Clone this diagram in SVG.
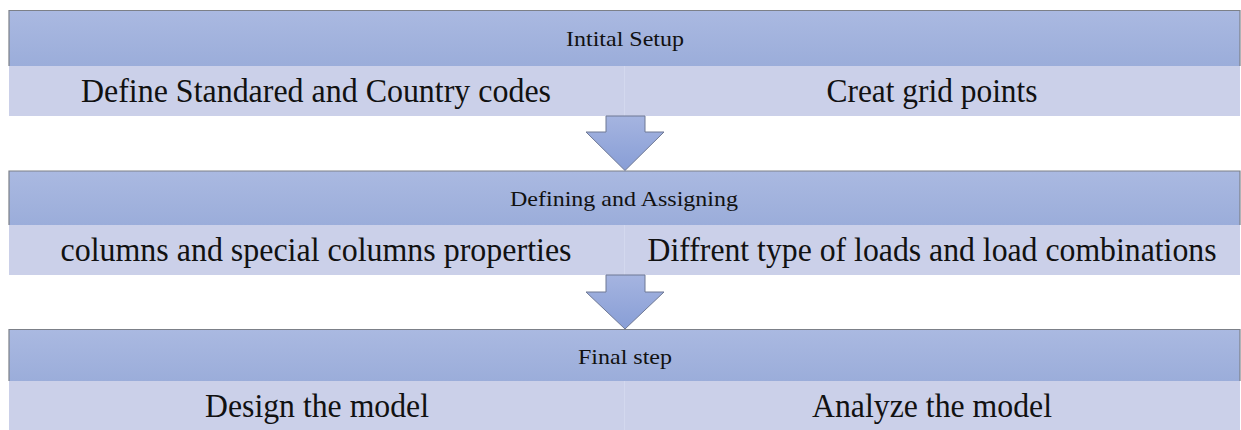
<svg xmlns="http://www.w3.org/2000/svg" width="1241" height="430" viewBox="0 0 1241 430">
  <defs>
    <linearGradient id="hdr" x1="0" y1="0" x2="0" y2="1">
      <stop offset="0" stop-color="#aab9e1"/>
      <stop offset="1" stop-color="#9badda"/>
    </linearGradient>
    <linearGradient id="arr" x1="0" y1="0" x2="0" y2="1">
      <stop offset="0" stop-color="#a5b4e0"/>
      <stop offset="1" stop-color="#889ed6"/>
    </linearGradient>
  </defs>
  <style>
    .hdr { fill: url(#hdr); }
    .edge { stroke: #7c8088; stroke-width: 1.2; fill: none; }
    .sub { fill: #cbd0e9; }
    .div { stroke: #d3d8ee; stroke-width: 1; }
    .arrow { fill: url(#arr); stroke: #6e7894; stroke-width: 1; }
    .ht { font-family: "Liberation Serif", "Times New Roman", serif; font-size: 22px; fill: #111; text-anchor: middle; }
    .st { font-family: "Liberation Serif", "Times New Roman", serif; font-size: 33px; fill: #111; text-anchor: middle; }
  </style>
  <rect width="1241" height="430" fill="#ffffff"/>

  <!-- Band 1 -->
  <g id="stage1-header">
    <rect class="hdr" x="9" y="10.5" width="1231" height="55.5"/>
    <path class="edge" d="M9 66 V10.5 H1240 V66"/>
    <text class="ht" x="625" y="46" textLength="118" lengthAdjust="spacingAndGlyphs">Intital Setup</text>
  </g>
  <g id="stage1-left">
    <rect class="sub" x="9" y="66" width="615.5" height="50"/>
    <text class="st" x="316" y="101.5" textLength="470" lengthAdjust="spacingAndGlyphs">Define Standared and Country codes</text>
  </g>
  <g id="stage1-right">
    <rect class="sub" x="624.5" y="66" width="615.5" height="50"/>
    <line class="div" x1="624.5" y1="66" x2="624.5" y2="116"/>
    <text class="st" x="932" y="101.5" textLength="211" lengthAdjust="spacingAndGlyphs">Creat grid points</text>
  </g>

  <!-- Band 2 -->
  <g id="stage2-header">
    <rect class="hdr" x="9" y="171" width="1231" height="54"/>
    <path class="edge" d="M9 225 V171 H1240 V225"/>
    <text class="ht" x="624" y="206" textLength="228" lengthAdjust="spacingAndGlyphs">Defining and Assigning</text>
  </g>
  <g id="stage2-left">
    <rect class="sub" x="9" y="225" width="615.5" height="50"/>
    <text class="st" x="316" y="260.5" textLength="511" lengthAdjust="spacingAndGlyphs">columns and special columns properties</text>
  </g>
  <g id="stage2-right">
    <rect class="sub" x="624.5" y="225" width="615.5" height="50"/>
    <line class="div" x1="624.5" y1="225" x2="624.5" y2="275"/>
    <text class="st" x="932" y="260.5" textLength="569" lengthAdjust="spacingAndGlyphs">Diffrent type of loads and load combinations</text>
  </g>

  <!-- Band 3 -->
  <g id="stage3-header">
    <rect class="hdr" x="9" y="329.5" width="1231" height="51.5"/>
    <path class="edge" d="M9 381 V329.5 H1240 V381"/>
    <text class="ht" x="625" y="364" textLength="94" lengthAdjust="spacingAndGlyphs">Final step</text>
  </g>
  <g id="stage3-left">
    <rect class="sub" x="9" y="381" width="615.5" height="50"/>
    <text class="st" x="317" y="417" textLength="224" lengthAdjust="spacingAndGlyphs">Design the model</text>
  </g>
  <g id="stage3-right">
    <rect class="sub" x="624.5" y="381" width="615.5" height="50"/>
    <line class="div" x1="624.5" y1="381" x2="624.5" y2="431"/>
    <text class="st" x="932" y="417" textLength="240" lengthAdjust="spacingAndGlyphs">Analyze the model</text>
  </g>

  <!-- Connectors -->
  <g id="connectors">
    <path class="arrow" d="M606 116 H645 V132 H664 L625 170.5 L586 132 H606 Z"/>
    <path class="arrow" d="M606 275 H645 V292 H664 L625 329 L586 292 H606 Z"/>
  </g>
</svg>
